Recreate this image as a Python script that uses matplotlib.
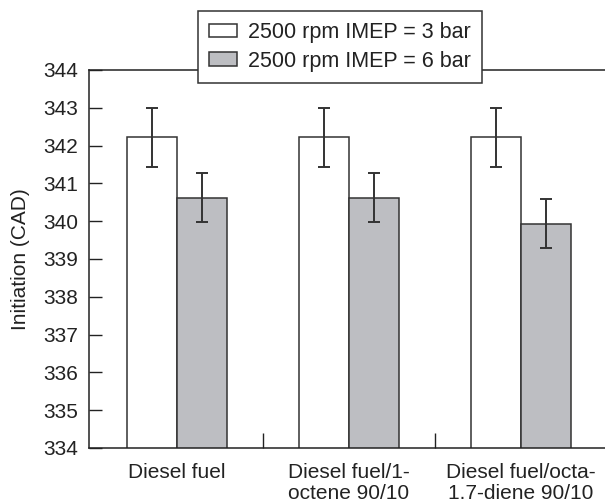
import matplotlib

matplotlib.use("Agg")
import matplotlib.pyplot as plt
import numpy as np

fuels = ["Diesel fuel", "Diesel fuel/1-\noctene 90/10", "Diesel fuel/octa-\n1.7-diene 90/10"]
series = ["2500 rpm IMEP = 3 bar", "2500 rpm IMEP = 6 bar"]
imep3 = [342.22, 342.22, 342.22]
imep3_err = [0.78, 0.78, 0.78]
imep6 = [340.62, 340.62, 339.93]
imep6_err = [0.65, 0.65, 0.65]

plt.rcParams["font.family"] = ["Liberation Sans", "DejaVu Sans"]
plt.rcParams["font.size"] = 15
INK = "#222222"
GREY = "#bdbec2"

fig = plt.figure(figsize=(6.05, 5.03), dpi=100)
ax = fig.add_axes([89 / 605, 1 - 448 / 503, 1 - 89 / 605, (448 - 70) / 503])

x = np.arange(len(fuels))
w = 0.29
err_kw = dict(ecolor="#333333", elinewidth=1.4, capsize=4.5, capthick=1.4)
ax.bar(x - w / 2, imep3, w, yerr=imep3_err, color="white",
       edgecolor="#333333", linewidth=1.1, label=series[0], error_kw=err_kw, zorder=2)
ax.bar(x + w / 2, imep6, w, yerr=imep6_err, color=GREY,
       edgecolor="#333333", linewidth=1.1, label=series[1], error_kw=err_kw, zorder=2)

ax.set_ylim(334, 344)
ax.set_xlim(-0.51, 2.49)
ax.set_yticks(np.arange(334, 345, 1))
ax.tick_params(axis="y", direction="in", length=9, width=1, colors=INK, pad=8)
ax.set_xticks(x)
ax.set_xticklabels(fuels, linespacing=1.1)
ax.tick_params(axis="x", which="major", length=0, pad=11, colors=INK)
ax.set_xticks([0.5, 1.5], minor=True)
ax.tick_params(axis="x", which="minor", direction="in", length=11, width=1, color=INK)

for side in ["left", "bottom", "top"]:
    ax.spines[side].set_color(INK)
    ax.spines[side].set_linewidth(1.1)
ax.spines["right"].set_visible(False)

ax.set_ylabel("Initiation (CAD)", color=INK, labelpad=9)

leg = fig.legend(loc="center", bbox_to_anchor=(340 / 605, 1 - 47 / 503),
                 frameon=True, fancybox=False, edgecolor="#333333",
                 fontsize=15.5, handlelength=1.3, handleheight=0.6,
                 labelspacing=0.35, borderpad=0.5, handletextpad=0.5,
                 borderaxespad=0)
leg.get_frame().set_linewidth(1.1)
leg.get_frame().set_alpha(1)
for t in leg.get_texts():
    t.set_color(INK)

fig.savefig("out.png", dpi=100)
